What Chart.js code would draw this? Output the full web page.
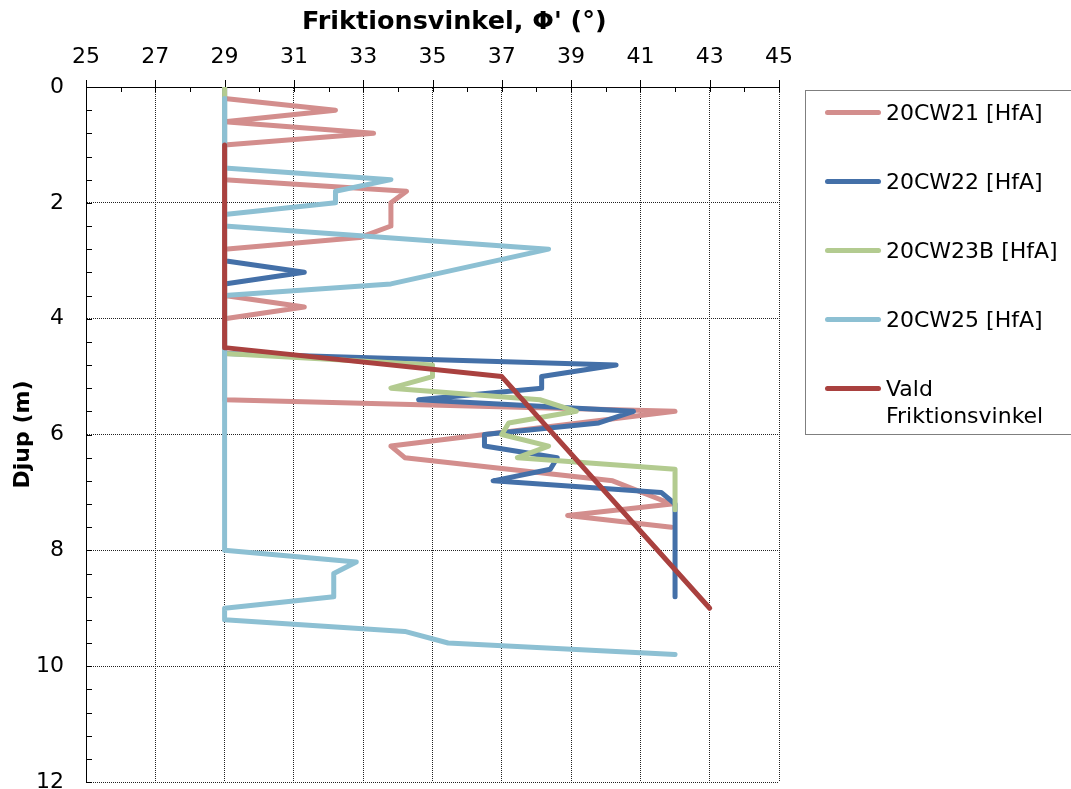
<!DOCTYPE html>
<html>
<head>
<meta charset="utf-8">
<script src="https://cdn.jsdelivr.net/npm/chart.js@4.4.1/dist/chart.umd.min.js"></script>
<style>
  body { margin: 0; background: #fff; font-family: "DejaVu Sans", Verdana, sans-serif; }
  #wrap { position: relative; width: 1071px; height: 789px; overflow: hidden; }
  #xtitle {
    position: absolute; left: 302px; top: 5px; font-size: 25.5px; line-height: 30px;
    font-weight: bold; color: #000; white-space: nowrap;
  }
  #legend {
    position: absolute; left: 805px; top: 90px; width: 290px; height: 345px;
    border: 1px solid #7f7f7f; box-sizing: border-box;
  }
  .item { position: absolute; left: 19px; font-size: 22px; color: #000; line-height: 27px; }
  .item .swatch {
    position: absolute; left: 0; top: 11px; width: 56px; height: 5px; border-radius: 3px;
  }
  .item .txt { margin-left: 61px; white-space: nowrap; }
</style>
</head>
<body>
<div id="wrap">
  <canvas id="chart"></canvas>
  <div id="xtitle"></div>
  <div id="legend"></div>
</div>
<script>
// ===== Data: depth (m) and friction angle (deg) per sounding =====
const depth21 = [0, 0.2, 0.4, 0.6, 0.8, 1.0, 1.6, 1.8, 2.0, 2.4, 2.6, 2.8, 3.6, 3.8, 4.0, 5.4, 5.6, 6.2, 6.4, 6.8, 7.2, 7.4, 7.6];
const phi21   = [29, 29, 32.2, 29, 33.3, 29, 29, 34.25, 33.8, 33.8, 32.9, 29, 29, 31.3, 29, 29, 42, 33.8, 34.2, 40.2, 41.9, 38.9, 41.9];

const depth22 = [0, 3.0, 3.2, 3.4, 4.6, 4.8, 5.0, 5.2, 5.4, 5.6, 5.8, 6.0, 6.2, 6.4, 6.6, 6.8, 7.0, 7.2, 8.8];
const phi22   = [29, 29, 31.3, 29, 29, 40.3, 38.15, 38.15, 34.6, 40.8, 39.8, 36.5, 36.5, 38.6, 38.4, 36.75, 41.6, 42, 42];

const depth23B = [0, 4.6, 4.8, 5.0, 5.2, 5.4, 5.6, 5.8, 6.0, 6.2, 6.4, 6.6, 7.3];
const phi23B   = [29, 29, 35, 35, 33.8, 38.1, 39.15, 37.2, 37.0, 38.35, 37.45, 42, 42];

const depth25 = [0.2, 1.4, 1.6, 1.8, 2.0, 2.2, 2.4, 2.8, 3.4, 3.6, 8.0, 8.2, 8.4, 8.8, 9.0, 9.2, 9.4, 9.6, 9.8];
const phi25   = [29, 29, 33.8, 32.2, 32.2, 29, 29, 38.35, 33.8, 29, 29, 32.8, 32.15, 32.15, 29, 29, 34.2, 35.45, 42];

const depthVald = [1.0, 4.5, 5.0, 9.0];
const phiVald   = [29, 29, 37, 43];

const seriesNames = ["20CW21 [HfA]", "20CW22 [HfA]", "20CW23B [HfA]", "20CW25 [HfA]", ["Vald", "Friktionsvinkel"]];
const seriesColors = ["#d38e8d", "#4470a8", "#b3cb90", "#8dc0d3", "#a9413f"];

// axes
const X_MIN = 25, X_MAX = 45, X_STEP = 2, X_MINOR = 1;
const Y_MIN = 0, Y_MAX = 12, Y_STEP = 2, Y_MINOR = 0.4;
const X_TITLE = "Friktionsvinkel, Φ' (°)";
const Y_TITLE = "Djup (m)";

const FONT = "DejaVu Sans";

function toPoints(xs, ys) {
  return xs.map((v, i) => ({ x: v, y: ys[i] }));
}

const series = [
  toPoints(phi21, depth21),
  toPoints(phi22, depth22),
  toPoints(phi23B, depth23B),
  toPoints(phi25, depth25),
  toPoints(phiVald, depthVald)
];

// later series sit on top, like the original
const datasets = series.map((pts, i) => ({
  label: Array.isArray(seriesNames[i]) ? seriesNames[i].join(" ") : seriesNames[i],
  data: pts,
  showLine: true,
  borderColor: seriesColors[i],
  backgroundColor: seriesColors[i],
  borderWidth: 5,
  borderCapStyle: "round",
  borderJoinStyle: "round",
  pointRadius: 0,
  tension: 0,
  fill: false,
  order: series.length - i
}));

// tick marks (major crossing top axis, minor inside)
const axisMarks = {
  id: "axisMarks",
  beforeDatasetsDraw(chart) {
    const { ctx, chartArea: a, scales: { x, y } } = chart;
    ctx.save();
    ctx.strokeStyle = "#000";
    ctx.lineWidth = 1;
    ctx.beginPath();
    const nx = Math.round((X_MAX - X_MIN) / X_MINOR);
    for (let i = 0; i <= nx; i++) {
      const v = X_MIN + i * X_MINOR;
      const px = Math.round(x.getPixelForValue(v)) + 0.5;
      const major = i % Math.round(X_STEP / X_MINOR) === 0;
      ctx.moveTo(px, major ? a.top - 7 : a.top);
      ctx.lineTo(px, a.top + 5);
    }
    const ny = Math.round((Y_MAX - Y_MIN) / Y_MINOR);
    for (let i = 0; i <= ny; i++) {
      const v = Y_MIN + i * Y_MINOR;
      const py = Math.round(y.getPixelForValue(v)) + 0.5;
      ctx.moveTo(a.left, py);
      ctx.lineTo(a.left + 6, py);
    }
    ctx.stroke();
    ctx.restore();
  }
};

new Chart(document.getElementById("chart"), {
  type: "scatter",
  data: { datasets },
  options: {
    responsive: true,
    maintainAspectRatio: false,
    animation: false,
    layout: { padding: { left: 0, top: 0, right: 292, bottom: 7 } },
    plugins: {
      legend: { display: false },
      tooltip: { enabled: false }
    },
    scales: {
      x: {
        type: "linear",
        position: "top",
        min: X_MIN,
        max: X_MAX,
        ticks: { stepSize: X_STEP, padding: 17, color: "#000", font: { family: FONT, size: 22 } },
        grid: { color: "#222", lineWidth: 1, drawTicks: false },
        border: { display: true, color: "#000", width: 1, dash: [1, 1] },
        title: { display: false },
        afterFit(scale) {
          scale.height = 87;
          scale.paddingLeft = 0;
          scale.paddingRight = 0;
        }
      },
      y: {
        type: "linear",
        position: "left",
        reverse: true,
        min: Y_MIN,
        max: Y_MAX,
        ticks: { stepSize: Y_STEP, padding: 22, color: "#000", font: { family: FONT, size: 22 } },
        grid: { color: "#222", lineWidth: 1, drawTicks: false },
        border: { display: true, color: "#000", width: 1, dash: [1, 1] },
        title: {
          display: true, text: Y_TITLE, color: "#000",
          font: { family: FONT, size: 22, weight: "bold" },
          padding: { top: 10, bottom: 0 }
        },
        afterFit(scale) {
          scale.width = 86;
          scale.paddingTop = 0;
          scale.paddingBottom = 0;
        }
      }
    }
  },
  plugins: [axisMarks]
});

// x axis title sits a little right of centre in the original
document.getElementById("xtitle").textContent = X_TITLE;

// HTML legend
const rowTops = [98, 167, 236, 305, 374];
const legend = document.getElementById("legend");
seriesNames.forEach((name, i) => {
  const item = document.createElement("div");
  item.className = "item";
  item.style.top = (rowTops[i] - 90) + "px";
  const sw = document.createElement("div");
  sw.className = "swatch";
  sw.style.background = seriesColors[i];
  const txt = document.createElement("div");
  txt.className = "txt";
  txt.innerHTML = Array.isArray(name) ? name.join("<br>") : name;
  item.appendChild(sw);
  item.appendChild(txt);
  legend.appendChild(item);
});
</script>
</body>
</html>
